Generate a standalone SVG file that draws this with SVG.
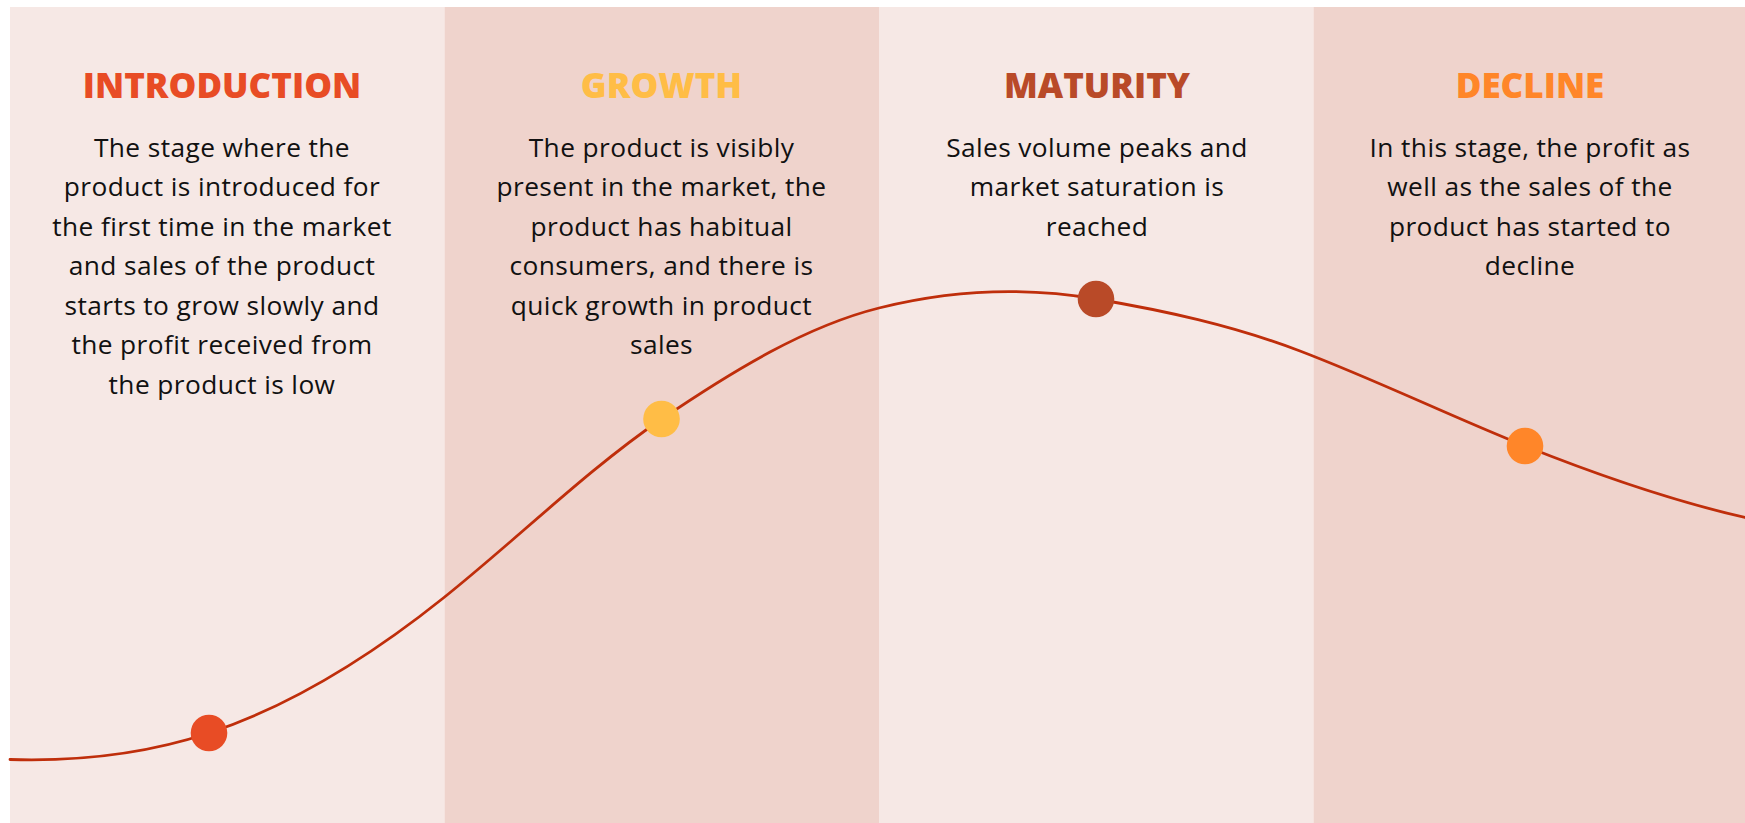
<svg xmlns="http://www.w3.org/2000/svg" width="1745" height="823" viewBox="0 0 1745 823">
  <style>
    .band-light { fill: #F6E8E5; }
    .band-dark { fill: #EFD3CC; }
    .title { font-family: "Open Sans", "Noto Sans", sans-serif; font-weight: 800; font-size: 35px; text-anchor: middle; }
    .body { font-family: "Open Sans", "Noto Sans", sans-serif; font-weight: 400; font-size: 26.3px; letter-spacing: 0.4px; fill: #111111; text-anchor: middle; }
    .curve { fill: none; stroke: #BF2E0B; stroke-width: 2.8; stroke-linecap: round; }
  </style>

  <rect x="0" y="0" width="1745" height="823" fill="#FFFFFF"/>

  <!-- stage columns -->
  <g id="bands">
    <rect class="band-light" x="10" y="7" width="434.5" height="816"/>
    <rect class="band-dark" x="444.5" y="7" width="434.5" height="816"/>
    <rect class="band-light" x="879" y="7" width="434.5" height="816"/>
    <rect class="band-dark" x="1313.5" y="7" width="431.5" height="816"/>
  </g>

  <!-- life-cycle curve -->
  <g id="connectors">
    <path class="curve" d="M10,759.5
      C76.3,761.5 142.7,755 209,733
      C287.3,707.15 365.7,660.17 444,597.5
      C516.3,539.63 588.7,468.69 661,419.5
      C733.7,370.09 806.3,326.17 879,308
      C951.3,289.92 1023.7,286.7 1096,299
      C1164,310.56 1232,325.16 1300,351
      C1375,379.5 1450,416 1525,446
      C1598.3,475.3 1671.7,500.63 1745,517.5"/>
  </g>

  <g id="introduction">
    <text class="title" x="222" y="98" fill="#E84C25">INTRODUCTION</text>
    <text class="body" x="222" y="156.5">The stage where the</text>
    <text class="body" x="222" y="196">product is introduced for</text>
    <text class="body" x="222" y="235.5">the first time in the market</text>
    <text class="body" x="222" y="275">and sales of the product</text>
    <text class="body" x="222" y="314.5">starts to grow slowly and</text>
    <text class="body" x="222" y="354">the profit received from</text>
    <text class="body" x="222" y="393.5">the product is low</text>
    <circle cx="209" cy="733" r="18.3" fill="#E84C25"/>
  </g>

  <g id="growth">
    <text class="title" x="661.5" y="98" fill="#FFBD46">GROWTH</text>
    <text class="body" x="661.5" y="156.5">The product is visibly</text>
    <text class="body" x="661.5" y="196">present in the market, the</text>
    <text class="body" x="661.5" y="235.5">product has habitual</text>
    <text class="body" x="661.5" y="275">consumers, and there is</text>
    <text class="body" x="661.5" y="314.5">quick growth in product</text>
    <text class="body" x="661.5" y="354">sales</text>
    <circle cx="661.5" cy="419" r="18.3" fill="#FFBD46"/>
  </g>

  <g id="maturity">
    <text class="title" x="1097" y="98" fill="#B94A28">MATURITY</text>
    <text class="body" x="1097" y="156.5">Sales volume peaks and</text>
    <text class="body" x="1097" y="196">market saturation is</text>
    <text class="body" x="1097" y="235.5">reached</text>
    <circle cx="1096" cy="299" r="18.3" fill="#B94A28"/>
  </g>

  <g id="decline">
    <text class="title" x="1530" y="98" fill="#FF8629">DECLINE</text>
    <text class="body" x="1530" y="156.5">In this stage, the profit as</text>
    <text class="body" x="1530" y="196">well as the sales of the</text>
    <text class="body" x="1530" y="235.5">product has started to</text>
    <text class="body" x="1530" y="275">decline</text>
    <circle cx="1525" cy="446" r="18.3" fill="#FF8629"/>
  </g>
</svg>
